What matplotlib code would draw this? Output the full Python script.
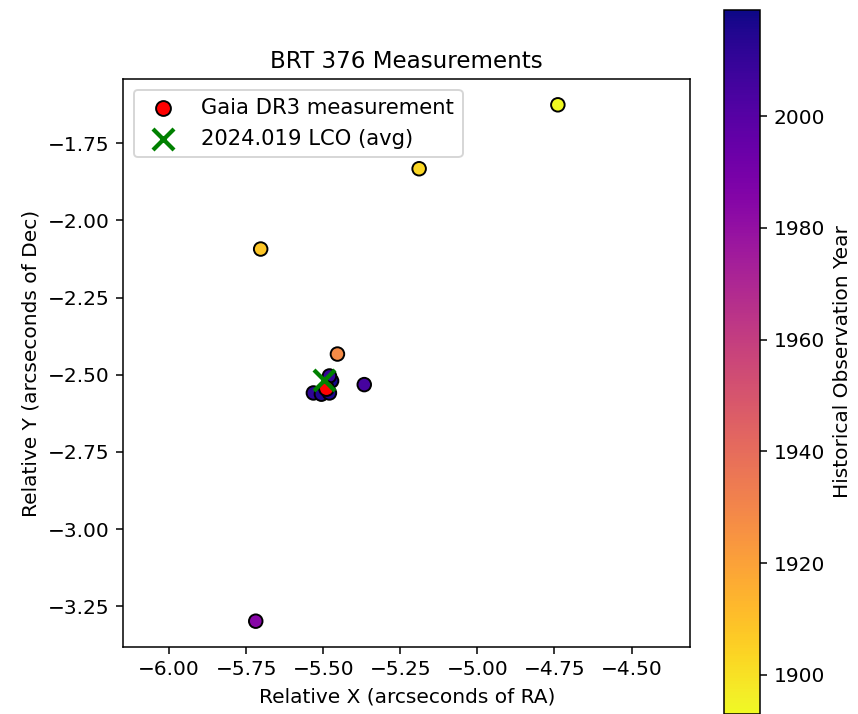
import numpy as np
import matplotlib
matplotlib.use("Agg")
import matplotlib.pyplot as plt

# Historical measurements
hist_x = [-4.739, -5.189, -5.703, -5.454, -5.367, -5.719,
          -5.532, -5.506, -5.480, -5.473, -5.480]
hist_y = [-1.626, -1.833, -2.093, -2.433, -2.532, -3.298,
          -2.559, -2.563, -2.559, -2.520, -2.504]
hist_year = [1893, 1903, 1908, 1928, 2005, 1985,
             2012, 2015, 2016, 2018, 2010]

gaia_x, gaia_y = -5.490, -2.543
lco_x, lco_y = -5.497, -2.516

vmin, vmax = 1893, 2019

DPI = 138
W, H = 858, 714
fig = plt.figure(figsize=(W / DPI, H / DPI), dpi=DPI)
ax = fig.add_axes([123.3 / W, 1 - 647 / H, 567 / W, 568 / H])
cax = fig.add_axes([724.3 / W, 0.0, 36 / W, (714 - 10) / H])

sc = ax.scatter(hist_x, hist_y, c=hist_year, cmap='plasma_r', vmin=vmin, vmax=vmax,
                s=50, edgecolors='black', linewidths=1, zorder=2)
ax.scatter([gaia_x], [gaia_y], c='red', s=60, edgecolors='black', linewidths=1,
           label='Gaia DR3 measurement', zorder=3)
ax.scatter([lco_x], [lco_y], c='green', marker='x', s=120, linewidths=2.2,
           label='2024.019 LCO (avg)', zorder=4)

allx = hist_x + [gaia_x, lco_x]
ally = hist_y + [gaia_y, lco_y]
cx = (max(allx) + min(allx)) / 2
cy = (max(ally) + min(ally)) / 2
half = max(max(allx) - min(allx), max(ally) - min(ally)) * 1.1 / 2
ax.set_xlim(cx - half, cx + half)
ax.set_ylim(cy - half, cy + half)

ax.set_xticks([-6.00, -5.75, -5.50, -5.25, -5.00, -4.75, -4.50])
ax.set_yticks([-1.75, -2.00, -2.25, -2.50, -2.75, -3.00, -3.25])
ax.tick_params(labelsize=10.5)

ax.set_title('BRT 376 Measurements', fontsize=12)
ax.set_xlabel('Relative X (arcseconds of RA)', fontsize=10.5)
ax.set_ylabel('Relative Y (arcseconds of Dec)', fontsize=10.5)
ax.legend(loc='upper left', fontsize=11)

cb = fig.colorbar(sc, cax=cax)
cb.set_ticks([1900, 1920, 1940, 1960, 1980, 2000])
cb.ax.tick_params(labelsize=10.5)
cb.set_label('Historical Observation Year', fontsize=10.5)

fig.savefig('out.png', dpi=DPI)
